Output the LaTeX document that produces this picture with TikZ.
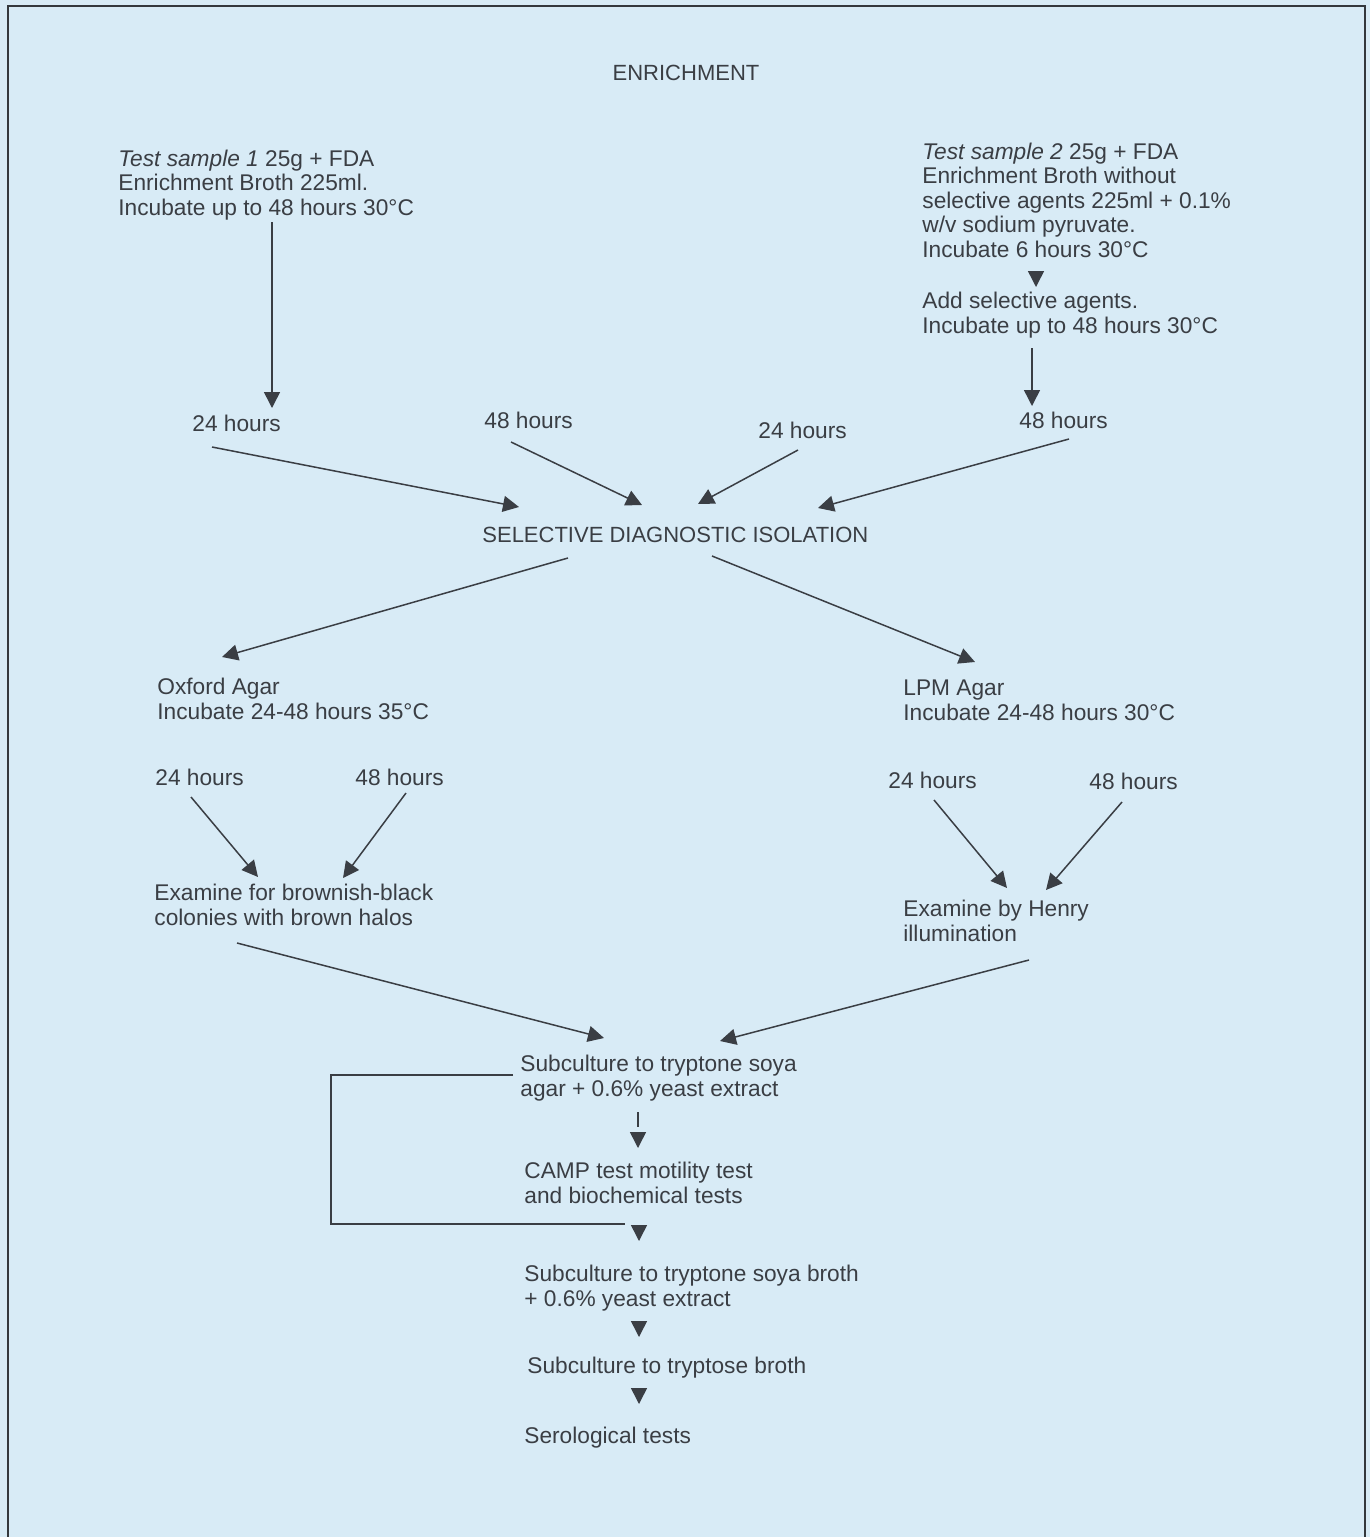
\documentclass[tikz,border=0pt]{standalone}
\usepackage{fontspec}
\setmainfont{Liberation Sans}
\usetikzlibrary{arrows.meta}
\definecolor{bg}{RGB}{216,235,246}
\definecolor{ink}{RGB}{58,62,68}
\tikzset{
  txt/.style={anchor=base west, inner sep=0pt, align=left, text=ink,
              font=\fontsize{11.35}{12.25}\selectfont},
  caps/.style={txt, font=\fontsize{11}{12.25}\selectfont},
  arr/.style={draw=ink, line width=0.75pt,
              -{Triangle[length=8pt,width=8pt]}},
  plain/.style={draw=ink, line width=0.75pt},
  frame/.style={draw=ink!90!black, line width=1pt}
}
\begin{document}
\begin{tikzpicture}[x=0.5pt,y=-0.5pt]
\fill[bg] (0,0) rectangle (1370,1537);
\useasboundingbox (0,0) rectangle (1370,1537);
\draw[frame] (8,1537) -- (8,6) -- (1365,6) -- (1365,1537);

% text blocks (multi-line nodes are placed by the baseline of their last line)
\node[caps, anchor=base] (enr) at (686,80) {ENRICHMENT};
\node[txt] (t1) at (118,215) {\textit{Test sample 1} 25g + FDA\\Enrichment Broth 225ml.\\Incubate up to 48 hours 30°C};
\node[txt] (t2) at (922,257) {\textit{Test sample 2} 25g + FDA\\Enrichment Broth without\\selective agents 225ml + 0.1\%\\w/v sodium pyruvate.\\Incubate 6 hours 30°C};
\node[txt] (t2b) at (922,333) {Add selective agents.\\Incubate up to 48 hours 30°C};
\node[txt] (h24a) at (192,431) {24 hours};
\node[txt] (h48a) at (484,428) {48 hours};
\node[txt] (h24b) at (758,438) {24 hours};
\node[txt] (h48b) at (1019,428) {48 hours};
\node[caps] (sdi) at (482,542) {SELECTIVE DIAGNOSTIC ISOLATION};
\node[txt] (ox) at (157,719) {Oxford Agar\\Incubate 24-48 hours 35°C};
\node[txt] (lpm) at (903,720) {LPM Agar\\Incubate 24-48 hours 30°C};
\node[txt] (h24c) at (155,785) {24 hours};
\node[txt] (h48c) at (355,785) {48 hours};
\node[txt] (h24d) at (888,788) {24 hours};
\node[txt] (h48d) at (1089,789) {48 hours};
\node[txt] (exa) at (154,925) {Examine for brownish-black\\colonies with brown halos};
\node[txt] (exb) at (903,941) {Examine by Henry\\illumination};
\node[txt] (sub1) at (520,1096) {Subculture to tryptone soya\\agar + 0.6\% yeast extract};
\node[txt] (camp) at (524,1203) {CAMP test motility test\\and biochemical tests};
\node[txt] (sub2) at (524,1306) {Subculture to tryptone soya broth\\+ 0.6\% yeast extract};
\node[txt] (sub3) at (527,1373) {Subculture to tryptose broth};
\node[txt] (sero) at (524,1443) {Serological tests};

% connector end points
\coordinate (t1s) at (272,222);   \coordinate (t1e) at (272,408);
\coordinate (t2s) at (1036,271);  \coordinate (t2e) at (1036,287);
\coordinate (t2bs) at (1032,348); \coordinate (t2be) at (1032,406);
\coordinate (aS) at (212,447);  \coordinate (aE) at (519,507);
\coordinate (bS) at (511,442);  \coordinate (bE) at (642,505);
\coordinate (cS) at (798,450);  \coordinate (cE) at (698,504);
\coordinate (dS) at (1069,439); \coordinate (dE) at (818,508);
\coordinate (eS) at (568,558);  \coordinate (eE) at (222,657);
\coordinate (fS) at (712,556);  \coordinate (fE) at (975,662);
\coordinate (gS) at (191,797);  \coordinate (gE) at (258,877);
\coordinate (hS) at (406,793);  \coordinate (hE) at (343,878);
\coordinate (iS) at (934,800);  \coordinate (iE) at (1007,888);
\coordinate (jS) at (1122,802); \coordinate (jE) at (1046,890);
\coordinate (kS) at (237,943);  \coordinate (kE) at (604,1038);
\coordinate (lS) at (1029,960); \coordinate (lE) at (720,1041);
\coordinate (mS) at (638,1112); \coordinate (mE) at (638,1127);
\coordinate (nS) at (638,1132); \coordinate (nE) at (638,1148);
\coordinate (bkS) at (513,1075); \coordinate (bkC) at (331,1224); \coordinate (bkE) at (625,1224);
\coordinate (oS) at (639,1225); \coordinate (oE) at (639,1241);
\coordinate (pS) at (639,1321); \coordinate (pE) at (639,1337);
\coordinate (qS) at (639,1388); \coordinate (qE) at (639,1404);

% connectors
\draw[arr] (t1s) -- (t1e);
\draw[arr] (t2s) -- (t2e);
\draw[arr] (t2bs) -- (t2be);
\draw[arr] (aS) -- (aE);
\draw[arr] (bS) -- (bE);
\draw[arr] (cS) -- (cE);
\draw[arr] (dS) -- (dE);
\draw[arr] (eS) -- (eE);
\draw[arr] (fS) -- (fE);
\draw[arr] (gS) -- (gE);
\draw[arr] (hS) -- (hE);
\draw[arr] (iS) -- (iE);
\draw[arr] (jS) -- (jE);
\draw[arr] (kS) -- (kE);
\draw[arr] (lS) -- (lE);
\draw[plain] (mS) -- (mE);
\draw[arr] (nS) -- (nE);
\draw[plain] (bkS) -| (bkC) -- (bkE);
\draw[arr] (oS) -- (oE);
\draw[arr] (pS) -- (pE);
\draw[arr] (qS) -- (qE);
\end{tikzpicture}
\end{document}
